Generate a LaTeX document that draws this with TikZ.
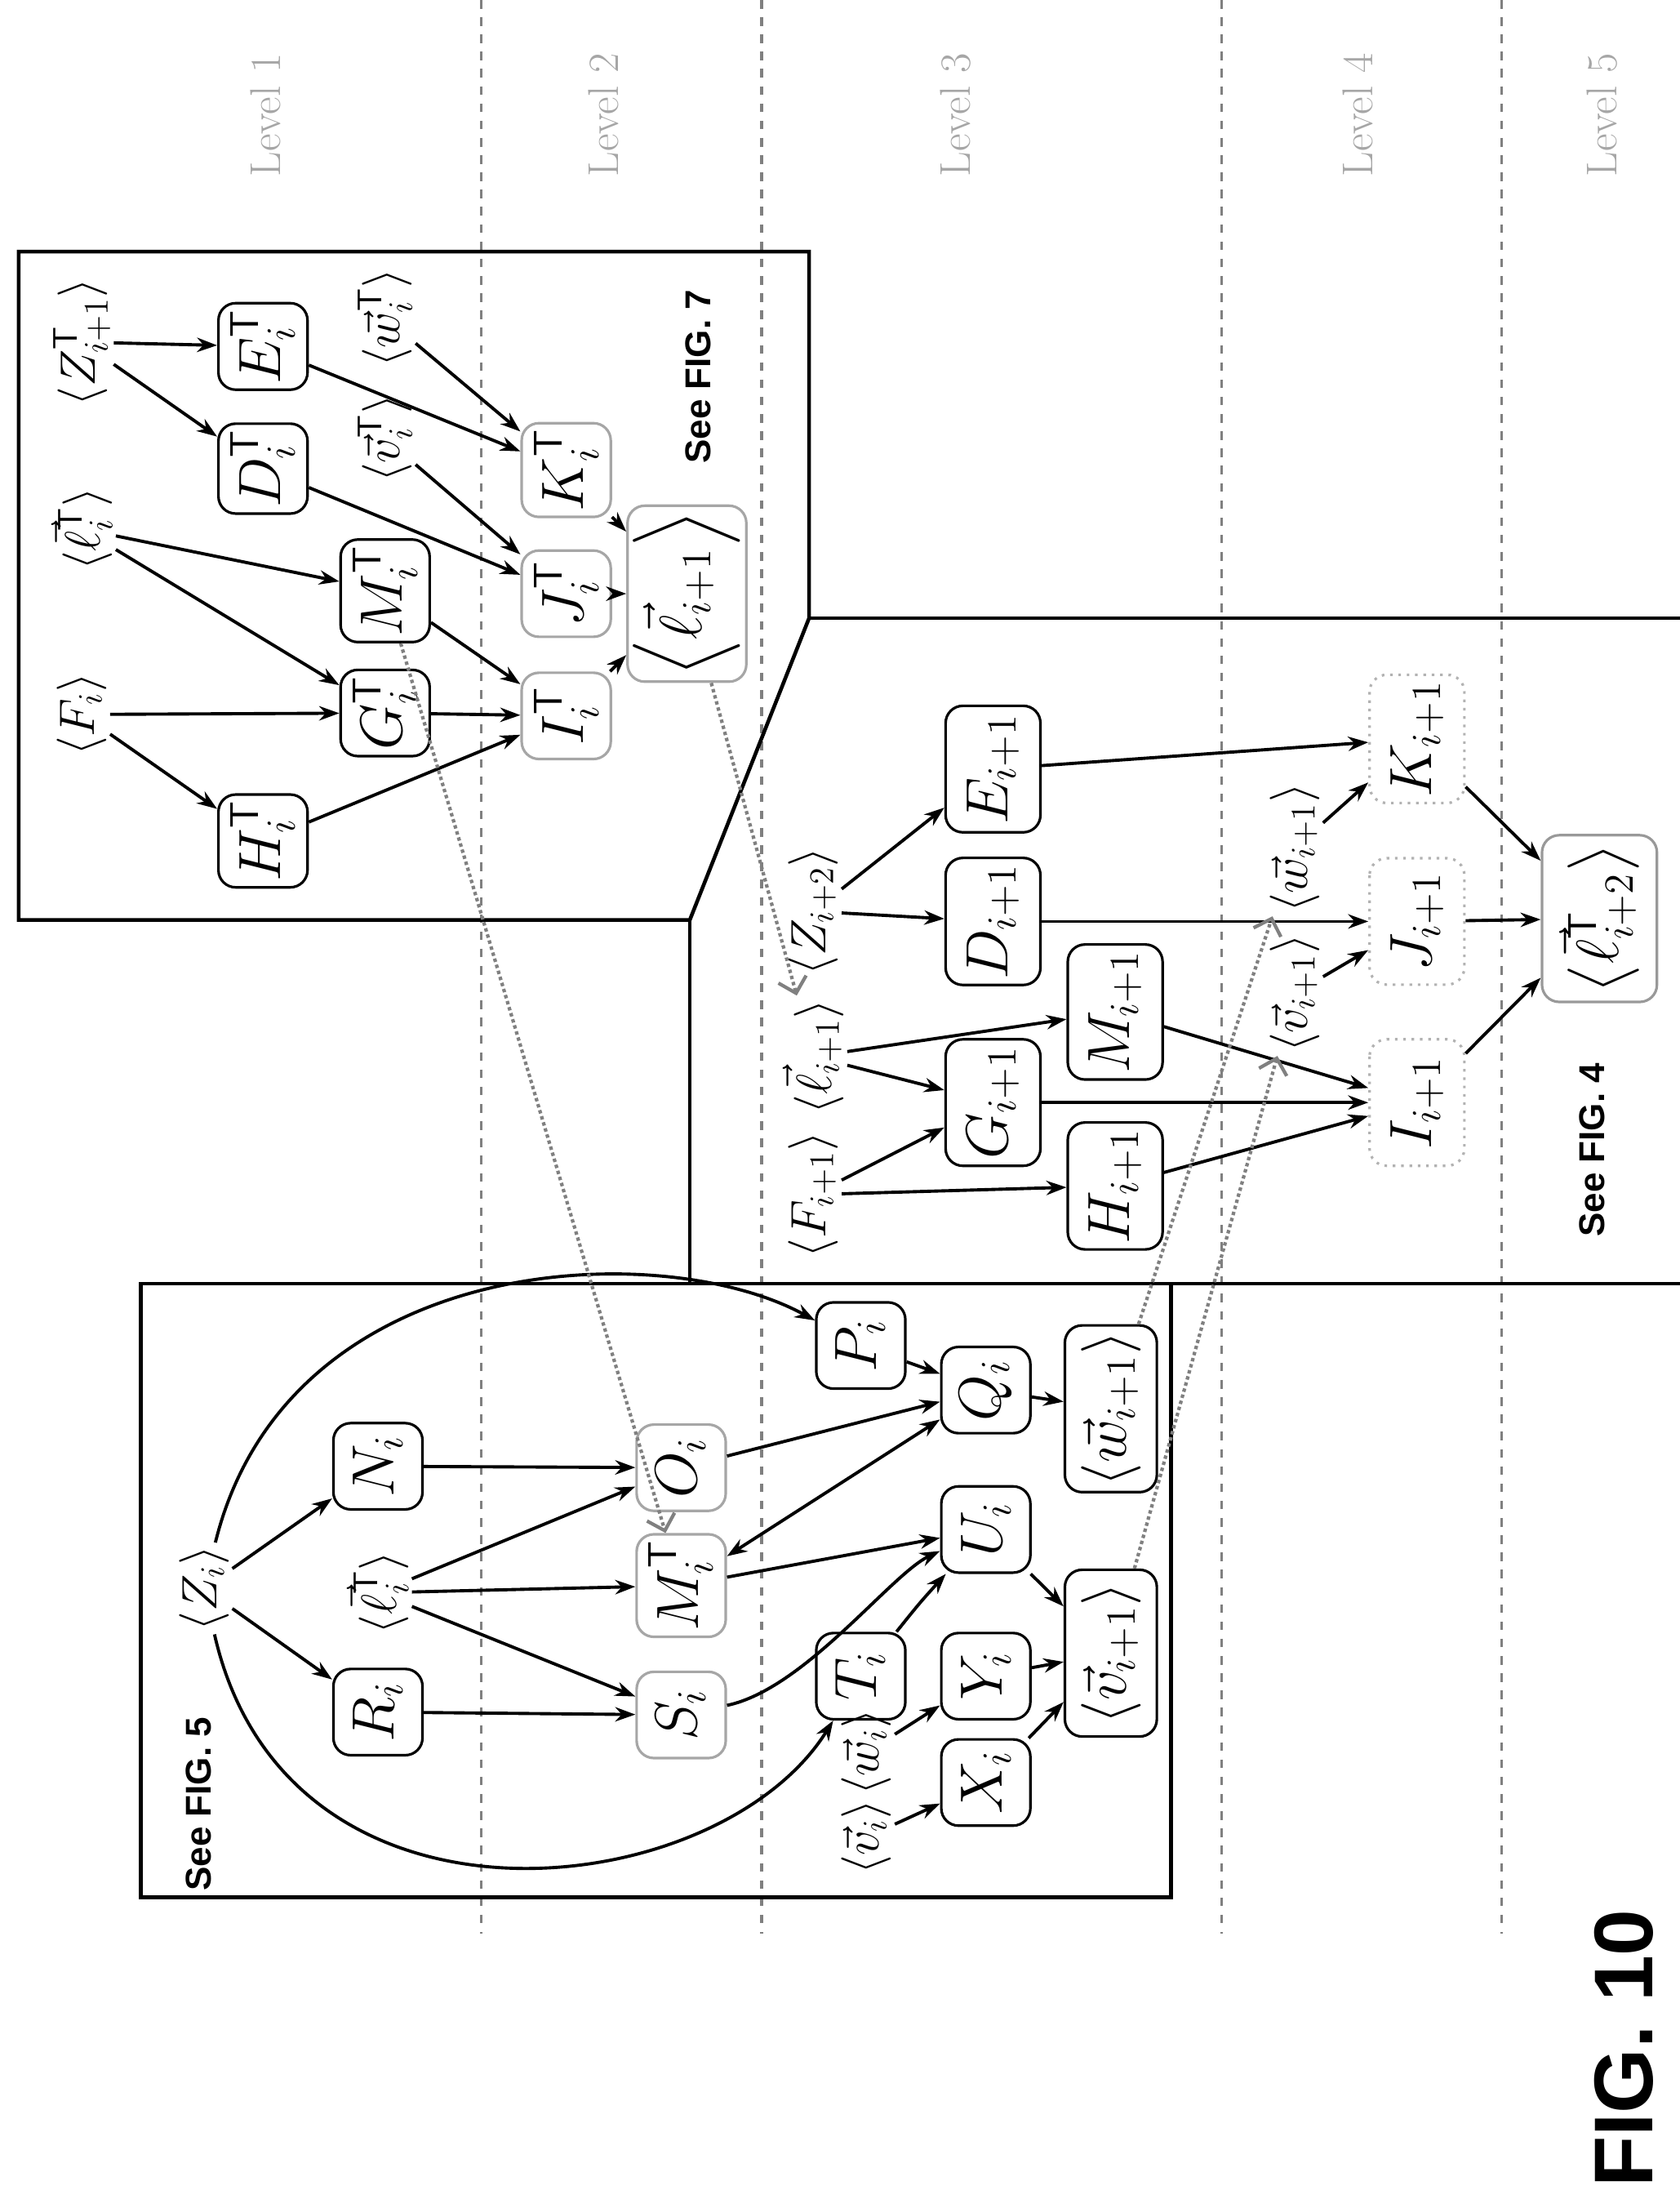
\documentclass[tikz,border=0pt]{standalone}
\usepackage{amsmath}
\usepackage{fontspec}
\newfontfamily\hv{Liberation Sans}
\usetikzlibrary{arrows.meta}
\begin{document}
\begin{tikzpicture}[x=0.5pt,y=-0.5pt,
 every node/.style={rotate=90,font=\fontsize{20}{24}\selectfont},
 bx/.style={draw,rounded corners=6pt,minimum width=30pt,minimum height=31pt,inner sep=2pt,line width=0.9pt},
 bg/.style={bx,draw=gray!70},
 bd/.style={bx,draw=gray!60,dotted},
 wide/.style={minimum width=44pt,minimum height=33pt},
 lb/.style={inner sep=1pt,font=\fontsize{17}{20}\selectfont},
 e/.style={-{Stealth[length=7pt,width=5pt]},line width=1.1pt},
 dt/.style={densely dotted,gray,line width=1.2pt,-{Straight Barb[length=5pt]}},
 dl/.style={dashed,gray,line width=0.9pt},
 lev/.style={text=gray!70,font=\fontsize{15}{18}\selectfont\rmfamily},
 fr/.style={line width=1.3pt},
 see/.style={font=\hv\bfseries\fontsize{12.5}{15}\selectfont}]
\useasboundingbox (0,0) rectangle (1169,1536);
% dashed level lines
\foreach \x in {335,530,850,1045} \draw[dl] (\x,0) -- (\x,1345);
\node[lev] (l1) at (185,80) {Level 1};
\node[lev] (l2) at (420,80) {Level 2};
\node[lev] (l3) at (665,80) {Level 3};
\node[lev] (l4) at (945,80) {Level 4};
\node[lev] (l5) at (1115,80) {Level 5};
% frames
\draw[fr] (13,175) -- (563,175) -- (563,430) -- (480,640) -- (13,640) -- cycle;
\draw[fr] (563,430) -- (1178,430) -- (1178,893) -- (480,893) -- (480,640);
\draw[fr] (98,893) rectangle (815,1320);
\node[see] (s7) at (486,262) {See FIG. 7};
\node[see] (s4) at (1108,800) {See FIG. 4};
\node[see] (s5) at (138,1255) {See FIG. 5};
\node[font=\hv\bfseries\fontsize{29}{32}\selectfont,anchor=base] (f10) at (1150,1425) {FIG. 10};
% FIG 7
\node[lb] (F7) at (57,497) {$\langle F_i\rangle$};
\node[lb] (L7) at (57,368) {$\langle \vec\ell_i^{\mathsf T}\rangle$};
\node[lb] (Z7) at (57,238) {$\langle Z_{i+1}^{\mathsf T}\rangle$};
\node[bx] (H7) at (183,585) {$H_i^{\mathsf T}$};
\node[bx] (G7) at (268,496) {$G_i^{\mathsf T}$};
\node[bx] (M7) at (268,411) {$M_i^{\mathsf T}$};
\node[bx] (D7) at (183,326) {$D_i^{\mathsf T}$};
\node[bx] (E7) at (183,241) {$E_i^{\mathsf T}$};
\node[lb] (v7) at (268,305) {$\langle \vec v_i^{\mathsf T}\rangle$};
\node[lb] (w7) at (268,221) {$\langle \vec w_i^{\mathsf T}\rangle$};
\node[bg] (I7) at (394,498) {$I_i^{\mathsf T}$};
\node[bg] (J7) at (394,413) {$J_i^{\mathsf T}$};
\node[bg] (K7) at (394,327) {$K_i^{\mathsf T}$};
\node[bg,minimum width=58pt,minimum height=40pt] (N7) at (478,413) {$\Big\langle \vec\ell_{i+1}\Big\rangle$};
\draw[e] (F7) -- (H7); \draw[e] (F7) -- (G7);
\draw[e] (L7) -- (G7); \draw[e] (L7) -- (M7);
\draw[e] (Z7) -- (D7); \draw[e] (Z7) -- (E7);
\draw[e] (H7) -- (I7); \draw[e] (G7) -- (I7); \draw[e] (M7) -- (I7);
\draw[e] (D7) -- (J7); \draw[e] (v7) -- (J7);
\draw[e] (E7) -- (K7); \draw[e] (w7) -- (K7);
\draw[e] (I7) -- (N7); \draw[e] (J7) -- (N7); \draw[e] (K7) -- (N7);
% FIG 4
\node[lb] (F4) at (566,831) {$\langle F_{i+1}\rangle$};
\node[lb] (L4) at (566,735) {$\langle \vec\ell_{i+1}\rangle$};
\node[lb] (Z4) at (566,634) {$\langle Z_{i+2}\rangle$};
\node[bx,wide] (G4) at (691,767) {$G_{i+1}$};
\node[bx,wide] (H4) at (776,825) {$H_{i+1}$};
\node[bx,wide] (M4) at (776,704) {$M_{i+1}$};
\node[bx,wide] (D4) at (691,641) {$D_{i+1}$};
\node[bx,wide] (E4) at (691,535) {$E_{i+1}$};
\node[lb] (v4) at (901,691) {$\langle \vec v_{i+1}\rangle$};
\node[lb] (w4) at (901,590) {$\langle \vec w_{i+1}\rangle$};
\node[bd,wide] (I4) at (986,767) {$I_{i+1}$};
\node[bd,wide] (J4) at (986,641) {$J_{i+1}$};
\node[bd,wide] (K4) at (986,514) {$K_{i+1}$};
\node[bx,draw=gray!80,minimum width=58pt,minimum height=40pt] (P4) at (1113,639) {$\big\langle \vec\ell_{i+2}^{\mathsf T}\big\rangle$};
\draw[e] (F4) -- (H4); \draw[e] (F4) -- (G4);
\draw[e] (L4) -- (G4); \draw[e] (L4) -- (M4);
\draw[e] (Z4) -- (D4); \draw[e] (Z4) -- (E4);
\draw[e] (H4) -- (I4); \draw[e] (G4) -- (I4); \draw[e] (M4) -- (I4);
\draw[e] (D4) -- (J4); \draw[e] (v4) -- (J4);
\draw[e] (E4) -- (K4); \draw[e] (w4) -- (K4);
\draw[e] (I4) -- (P4); \draw[e] (J4) -- (P4); \draw[e] (K4) -- (P4);
% FIG 5
\node[lb] (Z5) at (142,1105) {$\langle Z_i\rangle$};
\node[lb] (L5) at (263,1108) {$\langle \vec\ell_i^{\mathsf T}\rangle$};
\node[bx] (R5) at (263,1191) {$R_i$};
\node[bx] (N5) at (263,1020) {$N_i$};
\node[bg] (S5) at (474,1193) {$S_i$};
\node[bg] (M5) at (474,1103) {$M_i^{\mathsf T}$};
\node[bg] (O5) at (474,1021) {$O_i$};
\node[bx] (P5) at (599,936) {$P_i$};
\node[bx] (Q5) at (686,967) {$Q_i$};
\node[bx] (T5) at (599,1166) {$T_i$};
\node[bx] (U5) at (686,1064) {$U_i$};
\node[bx] (Y5) at (686,1166) {$Y_i$};
\node[bx] (X5) at (686,1240) {$X_i$};
\node[bx,minimum width=58pt,minimum height=32pt] (V5) at (773,1150) {$\langle \vec v_{i+1}\rangle$};
\node[bx,minimum width=58pt,minimum height=32pt] (W5) at (773,980) {$\langle \vec w_{i+1}\rangle$};
\node[lb] (vi) at (603,1278) {$\langle \vec v_i\rangle$};
\node[lb] (wi) at (603,1219) {$\langle \vec w_i\rangle$};
\draw[e] (Z5) -- (R5); \draw[e] (Z5) -- (N5);
\draw[e] (Z5) .. controls (200,870) and (460,860) .. (P5);
\draw[e] (Z5) .. controls (200,1360) and (500,1325) .. (T5);
\draw[e] (R5) -- (S5); \draw[e] (N5) -- (O5);
\draw[e] (L5) -- (S5); \draw[e] (L5) -- (M5); \draw[e] (L5) -- (O5);
\draw[e] (O5) -- (Q5); \draw[e] (P5) -- (Q5);
\draw[e] (M5) -- (U5); \draw[e,{Stealth[length=7pt,width=5pt]}-{Stealth[length=7pt,width=5pt]}] (M5) -- (Q5);
\draw[e] (S5) .. controls (560,1175) and (620,1095) .. (U5);
\draw[e] (T5) .. controls (640,1115) .. (U5);
\draw[e] (U5) -- (V5); \draw[e] (Y5) -- (V5); \draw[e] (X5) -- (V5);
\draw[e] (Q5) -- (W5);
\draw[e] (vi) -- (X5); \draw[e] (wi) -- (Y5);
% dotted links
\draw[dt] (M7) -- (M5);
\draw[dt] (N7) -- (L4);
\draw[dt] (V5) -- (v4);
\draw[dt] (W5) -- (w4);
\end{tikzpicture}
\end{document}
